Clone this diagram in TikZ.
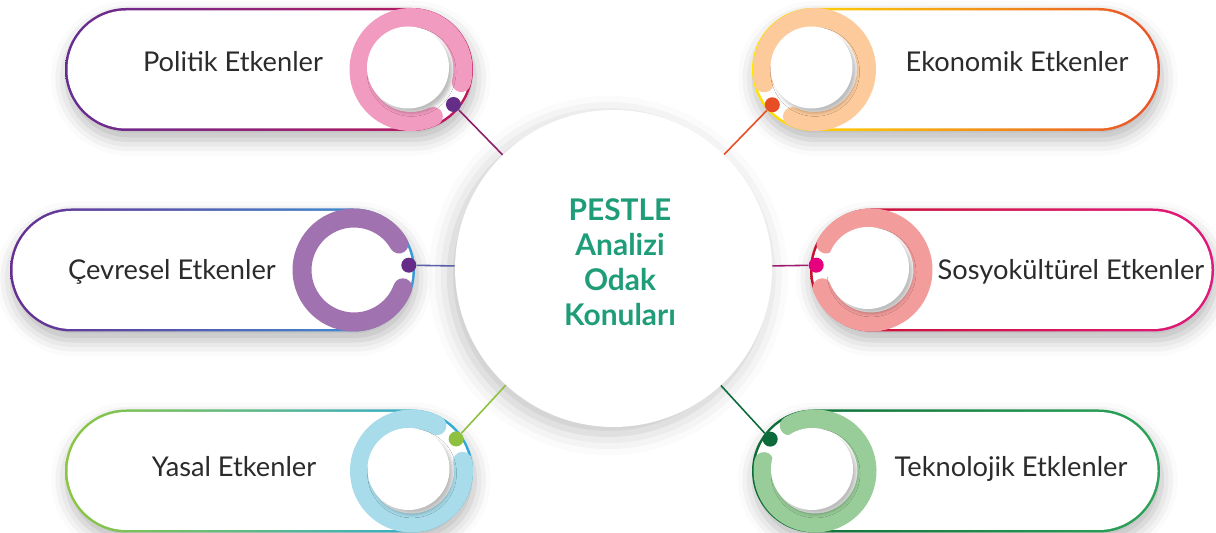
\documentclass[tikz,border=0pt]{standalone}
\usepackage{fontspec}
\setmainfont{Lato}
\usetikzlibrary{calc,shadows.blur}

% border gradients, ring, dot and connector colours per factor
\definecolor{polA}{HTML}{662D91}\definecolor{polB}{HTML}{C0185A}
\definecolor{polRing}{HTML}{F29BC1}\definecolor{polDot}{HTML}{652D88}\definecolor{polLine}{HTML}{8E1E6A}
\definecolor{ekoA}{HTML}{FFE500}\definecolor{ekoB}{HTML}{E8512A}
\definecolor{ekoRing}{HTML}{FDCB9B}\definecolor{ekoDot}{HTML}{E84E25}\definecolor{ekoLine}{HTML}{E84E25}
\definecolor{cevA}{HTML}{662D91}\definecolor{cevB}{HTML}{3A9AD9}
\definecolor{cevRing}{HTML}{A072B0}\definecolor{cevDot}{HTML}{652D88}\definecolor{cevLine}{HTML}{5A5FA8}
\definecolor{sosA}{HTML}{C8102E}\definecolor{sosB}{HTML}{E0197D}
\definecolor{sosRing}{HTML}{F39C9C}\definecolor{sosDot}{HTML}{E6007E}\definecolor{sosLine}{HTML}{9B1E6E}
\definecolor{yasA}{HTML}{8CC63F}\definecolor{yasB}{HTML}{29A9E0}
\definecolor{yasRing}{HTML}{A8DCEA}\definecolor{yasDot}{HTML}{8DC13F}\definecolor{yasLine}{HTML}{8DC13F}
\definecolor{tekA}{HTML}{0B6B35}\definecolor{tekB}{HTML}{2DA45A}
\definecolor{tekRing}{HTML}{98CC98}\definecolor{tekDot}{HTML}{0D6B3B}\definecolor{tekLine}{HTML}{0D6B3B}
\definecolor{titlegreen}{HTML}{1F9D78}
\definecolor{labelgray}{HTML}{2B2B2B}

\tikzset{
	pillshadow/.style={blur shadow={shadow xshift=1pt,shadow yshift=-5pt,shadow blur radius=9pt,shadow opacity=28}},
	hub/.style={circle,fill=white,inner sep=0pt,minimum size=6.34cm,
		blur shadow={shadow xshift=-3pt,shadow yshift=-4pt,shadow blur radius=12pt,shadow opacity=24}},
	dot/.style={circle,inner sep=0pt,minimum size=0.3cm},
	factorlabel/.style={anchor=base,text=labelgray,font=\fontsize{15.5}{18}\selectfont},
	connector/.style={line width=0.9pt}
}

\begin{document}
\begin{tikzpicture}[x=0.02cm,y=0.02cm]
	\useasboundingbox (0,0) rectangle (1216,533);
	% pills with rings
	\foreach \nm/\xa/\xb/\yc/\rx/\ang/\lx/\ly/\lbl/\disc in {
		pol/65/473/463.5/411/-39.5/233/461/Politik Etkenler/1,
		eko/752/1160/463.5/814.5/219.9/1017/461/Ekonomik Etkenler/1,
		cev/10/415/263/354/5/172/253/Çevresel Etkenler/0,
		sos/810/1214/263/871/175/1071/253/Sosyokültürel Etkenler/1,
		yas/65/473/62/411.5/35.7/234/56/Yasal Etkenler/1,
		tek/752/1160/62/815/144.6/1011/56/Teknolojik Etklenler/1}{
		\shade[left color=\nm A,right color=\nm B,rounded corners=1.23cm,pillshadow]
			(\xa,\yc-61.5) rectangle (\xb,\yc+61.5);
		\fill[white,rounded corners=1.18cm] (\xa+2.5,\yc-59) rectangle (\xb-2.5,\yc+59);
		\draw[\nm Ring,line width=0.38cm,line cap=round]
			([shift={(\ang+25:52)}]\rx,\yc) arc[start angle=\ang+25,end angle=\ang+335,radius=52];
		\ifnum\disc=1
			\fill[white,blur shadow={shadow xshift=2pt,shadow yshift=-2.5pt,shadow blur radius=2pt,shadow opacity=26}]
				(\rx-3,\yc+2) circle (41);
		\fi
		\node[dot,fill=\nm Dot] (dot\nm) at ($(\rx,\yc)+(\ang:55)$) {};
		\node[factorlabel] (lbl\nm) at (\lx,\ly) {\lbl};
	}
	\node[hub] (hub) at (613.5,264.5) {};
	\node[align=center,text=titlegreen,font=\fontsize{17}{20}\selectfont\bfseries] (title) at (620,271)
		{PESTLE\\Analizi\\Odak\\Konuları};
	\foreach \nm in {pol,eko,cev,sos,yas,tek}
		\draw[connector,\nm Line] (dot\nm) -- (hub);
\end{tikzpicture}
\end{document}
